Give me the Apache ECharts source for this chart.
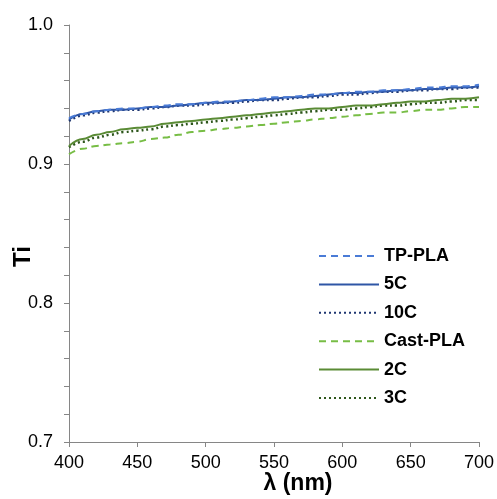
<!DOCTYPE html>
<html>
<head>
<meta charset="utf-8">
<script src="https://cdn.jsdelivr.net/npm/echarts@6/dist/echarts.min.js"></script>
<style>html,body{margin:0;padding:0;background:#fff}#c{width:497px;height:499px}</style>
</head>
<body>
<div id="c"></div>
<script>
var wavelengths = [400,410,420,430,440,450,460,470,480,490,500,510,520,530,540,550,560,570,580,590,600,610,620,630,640,650,660,670,680,690,700];
var tpPLA  = [0.933,0.936,0.938,0.939,0.940,0.940,0.941,0.942,0.943,0.943,0.944,0.945,0.945,0.946,0.947,0.948,0.948,0.949,0.950,0.950,0.951,0.952,0.952,0.953,0.953,0.954,0.955,0.955,0.956,0.956,0.957];
var c5     = [0.932,0.936,0.938,0.939,0.939,0.940,0.941,0.941,0.942,0.943,0.944,0.944,0.945,0.946,0.946,0.947,0.948,0.948,0.949,0.950,0.951,0.951,0.952,0.952,0.953,0.953,0.954,0.954,0.955,0.955,0.956];
var c10    = [0.931,0.935,0.937,0.938,0.939,0.939,0.940,0.941,0.942,0.942,0.943,0.944,0.944,0.945,0.946,0.946,0.947,0.948,0.948,0.949,0.950,0.950,0.951,0.952,0.952,0.953,0.953,0.954,0.954,0.955,0.955];
var castPLA= [0.907,0.911,0.913,0.914,0.915,0.916,0.918,0.919,0.921,0.923,0.924,0.925,0.926,0.927,0.928,0.929,0.930,0.931,0.932,0.933,0.934,0.935,0.936,0.937,0.937,0.938,0.939,0.939,0.940,0.941,0.941];
var c2     = [0.913,0.918,0.921,0.923,0.925,0.926,0.927,0.929,0.930,0.931,0.932,0.933,0.934,0.935,0.936,0.937,0.938,0.939,0.940,0.940,0.941,0.942,0.942,0.943,0.944,0.945,0.945,0.946,0.947,0.947,0.948];
var c3     = [0.912,0.916,0.919,0.921,0.923,0.924,0.925,0.927,0.928,0.929,0.930,0.931,0.932,0.933,0.934,0.935,0.936,0.937,0.938,0.939,0.939,0.940,0.941,0.942,0.942,0.943,0.944,0.944,0.945,0.946,0.946];

var seriesNames = ['TP-PLA','5C','10C','Cast-PLA','2C','3C'];
var seriesData = [tpPLA, c5, c10, castPLA, c2, c3];
var styles = [
  {color:'#4a7bd6', type:[7,5], width:2},
  {color:'#2f56a6', type:'solid', width:2},
  {color:'#1e3670', type:[2,3], width:2.5},
  {color:'#77bd45', type:[7,5], width:2},
  {color:'#5a8b35', type:'solid', width:2},
  {color:'#2d561b', type:[2,3], width:2.5}
];
function pairs(arr){ return wavelengths.map(function(w,i){ return [w, arr[i]]; }); }

var chart = echarts.init(document.getElementById('c'), null, {renderer:'canvas'});
chart.setOption({
  animation:false,
  backgroundColor:'#fff',
  grid:{left:69,right:18,top:25,bottom:57, containLabel:false, outerBoundsMode:'none'},
  legend:{
    orient:'vertical', left:313, top:242,
    itemWidth:60, itemHeight:14, itemGap:10.4,
    itemStyle:{opacity:0},
    textStyle:{fontFamily:'Liberation Sans, Arial, sans-serif', fontWeight:'bold', fontSize:18, color:'#000'},
    data:seriesNames
  },
  xAxis:{
    type:'value', min:400, max:700, interval:50,
    name:'λ (nm)', nameLocation:'middle', nameGap:30, nameMoveOverlap:false,
    nameTextStyle:{fontFamily:'Liberation Sans, Arial, sans-serif', fontWeight:'bold', fontSize:23, color:'#000', padding:[0,0,0,48]},
    axisLine:{lineStyle:{color:'#868686', width:1}},
    axisTick:{show:true, length:5, inside:false, lineStyle:{color:'#868686'}},
    axisLabel:{fontFamily:'Liberation Sans, Arial, sans-serif', fontSize:18, color:'#000', margin:12},
    splitLine:{show:false}
  },
  yAxis:{
    type:'value', min:0.7, max:1.0, interval:0.1,
    name:'Ti', nameLocation:'middle', nameGap:34, nameRotate:90, nameMoveOverlap:false,
    nameTextStyle:{fontFamily:'Liberation Sans, Arial, sans-serif', fontWeight:'bold', fontSize:24, color:'#000', padding:[0,46,0,0]},
    axisLine:{show:true, lineStyle:{color:'#868686', width:1}},
    axisTick:{show:true, length:5, lineStyle:{color:'#868686'}},
    minorTick:{show:true, splitNumber:5, length:5, lineStyle:{color:'#868686'}},
    axisLabel:{fontFamily:'Liberation Sans, Arial, sans-serif', fontSize:18, color:'#000', margin:16,
      formatter:function(v){ return v.toFixed(1); }},
    splitLine:{show:false}
  },
  series: seriesNames.map(function(n,i){
    return {
      name:n, type:'line', data:pairs(seriesData[i]), symbol:'none', smooth:0.4, smoothMonotone:'x',
      itemStyle:{color:styles[i].color},
      lineStyle:{color:styles[i].color, type:styles[i].type, width:styles[i].width},
      z: 10-i
    };
  })
});
</script>
</body>
</html>
